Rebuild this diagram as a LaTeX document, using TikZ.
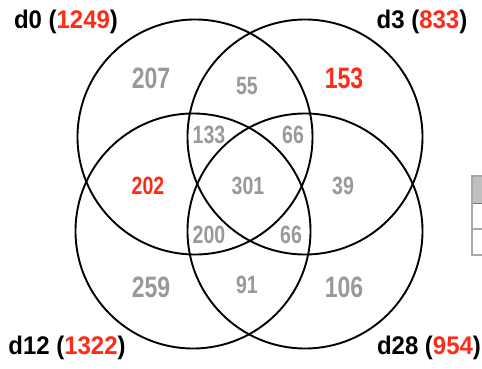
\documentclass[tikz,border=0pt]{standalone}
\usepackage{fontspec}
\setmainfont{Liberation Sans}
\newfontfamily\numfont[FakeStretch=0.78]{Liberation Sans}
\newfontfamily\setfont[FakeStretch=0.94]{Liberation Sans}
\definecolor{vred}{HTML}{FF2A17}
\definecolor{vgray}{HTML}{999999}
\definecolor{tabhead}{HTML}{C0C0C0}
\definecolor{tabline}{HTML}{A8A8A8}
\definecolor{tabdark}{HTML}{777777}

\begin{document}
\begin{tikzpicture}[x=1pt, y=-1pt,
  setlabel/.style={font=\setfont\bfseries\fontsize{25.5}{25.5}\selectfont, inner sep=0pt},
  numbig/.style={font=\numfont\bfseries\fontsize{29.5}{29.5}\selectfont, inner sep=0pt, text=vgray},
  numsmall/.style={font=\numfont\bfseries\fontsize{25}{25}\selectfont, inner sep=0pt, text=vgray}]
\useasboundingbox (0,0) rectangle (482,369);

% Circle centres
\coordinate (A) at (195,137);   % d0
\coordinate (B) at (305,137);   % d3
\coordinate (C) at (193,231);   % d12
\coordinate (D) at (305,231);   % d28

% Draw the four sets
\foreach \p in {A,B,C,D} {
    \draw[line width=1.9pt] (\p) circle (117.5);
}

% Set names with their totals
\node[setlabel] (lA) at (66,22)  {d0 (\textcolor{vred}{1249})};
\node[setlabel] (lB) at (422,22) {d3 (\textcolor{vred}{833})};
\node[setlabel] (lC) at (67,348) {d12 (\textcolor{vred}{1322})};
\node[setlabel] (lD) at (429,348) {d28 (\textcolor{vred}{954})};

% Region counts, large
\foreach \x/\y/\n/\c in {151/78/207/vgray, 344/78/153/vred, 151/287/259/vgray, 344/287/106/vgray} {
    \node[numbig, text=\c] (r\n) at (\x,\y) {\n};
}

% Region counts, small
\foreach \x/\y/\n/\c/\k in {247/86/55/vgray/a, 209/135/133/vgray/b, 293/135/66/vgray/c,
    148/186/202/vred/d, 248/186/301/vgray/e, 343/186/39/vgray/f,
    209/235/200/vgray/g, 291/235/66/vgray/h, 247/285/91/vgray/i} {
    \node[numsmall, text=\c] (s\k) at (\x,\y) {\n};
}

% Cut-off table at the right edge
\fill[tabhead] (472,176) rectangle (483,203);
\draw[tabdark, line width=1.5pt] (472,203.5) -- (483,203.5);
\draw[tabline, line width=1.5pt] (483,176) -- (472,176) -- (472,255) -- (483,255);
\draw[tabline, line width=1.5pt] (472,229) -- (483,229);
\end{tikzpicture}
\end{document}
